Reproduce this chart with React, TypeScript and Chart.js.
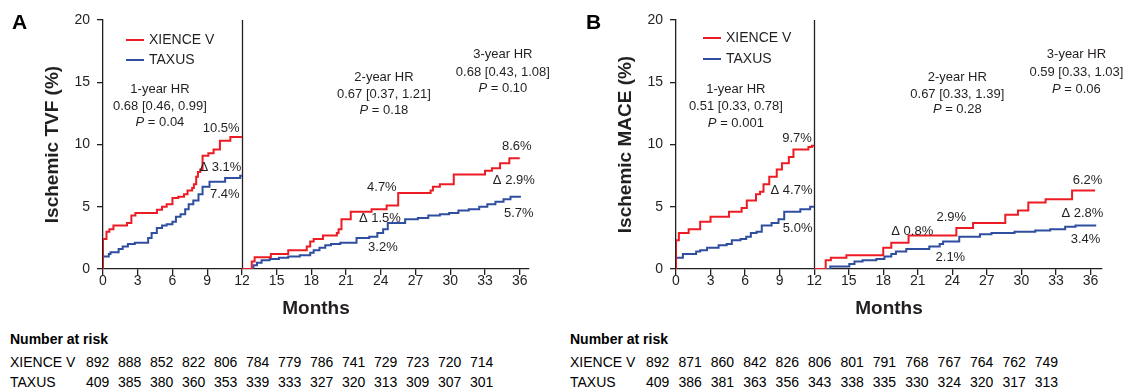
import React, { useEffect, useRef } from "react";
import { Chart, registerables } from "chart.js";

Chart.register(...registerables);

// ---------------- DATA ----------------
const monthTicks = [0, 3, 6, 9, 12, 15, 18, 21, 24, 27, 30, 33, 36];
const percentTicks = [0, 5, 10, 15, 20];
const seriesNames = ["XIENCE V", "TAXUS"];

// Panel A – Ischemic TVF, cumulative % [month, value]
const tvfXienceYear1: [number, number][] = [
  [0, 0], [0, 2.4], [0.3, 3.0], [0.55, 3.2], [0.9, 3.5], [2.07, 3.7], [2.45, 4.3], [2.8, 4.5],
  [4.66, 4.75], [5.1, 5.0], [5.5, 5.2], [6.0, 5.7], [6.5, 5.8], [7.0, 6.0], [7.3, 6.3], [7.7, 6.5],
  [7.85, 6.8], [8.05, 7.4], [8.2, 7.8], [8.4, 8.0], [8.6, 9.1], [9.1, 9.3], [9.55, 9.6], [10.1, 10.3],
  [11.0, 10.6], [12, 10.6],
];
const tvfTaxusYear1: [number, number][] = [
  [0, 0], [0, 1.0], [0.5, 1.2], [0.65, 1.35], [1.35, 1.6], [1.7, 1.8], [2.15, 2.0], [2.75, 2.1],
  [3.9, 2.5], [4.2, 2.9], [4.65, 3.3], [5.1, 3.5], [5.5, 3.6], [6.0, 3.8], [6.3, 4.2], [6.7, 4.4],
  [7.1, 4.8], [7.4, 5.2], [7.8, 5.5], [8.25, 6.0], [8.6, 6.6], [9.2, 7.0], [10.55, 7.3], [11.85, 7.5],
  [12, 7.5],
];
const tvfXienceLandmark: [number, number][] = [
  [12, 0], [12.85, 0.6], [13.1, 0.95], [14.5, 1.2], [16.0, 1.5], [17.6, 1.8], [17.9, 2.2], [18.2, 2.4],
  [19.0, 2.7], [20.2, 2.9], [20.35, 3.2], [20.6, 4.0], [21.4, 4.6], [23.2, 4.8], [24.5, 5.1], [25.5, 6.1],
  [28.3, 6.3], [28.5, 6.6], [29.1, 6.8], [30.3, 7.6], [33.0, 7.9], [33.6, 8.1], [34.3, 8.5], [35.1, 8.9],
  [36, 8.9],
];
const tvfTaxusLandmark: [number, number][] = [
  [12, 0], [13.0, 0.3], [13.3, 0.5], [13.7, 0.7], [14.4, 0.8], [15.2, 0.9], [16.0, 1.0], [17.0, 1.1],
  [17.9, 1.3], [18.2, 1.5], [18.7, 1.7], [19.2, 1.9], [19.7, 2.0], [20.5, 2.1], [21.9, 2.5], [23.0, 2.6],
  [23.7, 2.9], [24.2, 3.2], [24.6, 3.7], [26.1, 4.0], [27.2, 4.1], [28.1, 4.3], [29.1, 4.4], [29.9, 4.5],
  [30.7, 4.7], [31.6, 4.8], [32.5, 5.0], [33.2, 5.2], [33.9, 5.4], [34.6, 5.6], [35.2, 5.8], [36.1, 5.8],
];

// Panel B – Ischemic MACE, cumulative % [month, value]
const maceXienceYear1: [number, number][] = [
  [0, 0], [0, 2.3], [0.25, 2.9], [1.1, 3.2], [2.1, 3.8], [3.0, 4.2], [4.6, 4.6], [5.7, 4.9],
  [6.15, 5.5], [6.95, 6.0], [7.3, 6.2], [7.6, 6.8], [8.1, 7.4], [8.75, 8.0], [9.2, 8.5], [9.8, 9.0],
  [10.2, 9.6], [11.5, 9.8], [11.8, 9.9], [12, 9.9],
];
const maceTaxusYear1: [number, number][] = [
  [0, 0], [0, 0.9], [0.6, 1.2], [1.75, 1.4], [2.1, 1.5], [2.7, 1.7], [3.7, 1.9], [4.4, 2.0],
  [4.85, 2.3], [5.6, 2.4], [6.1, 2.6], [6.5, 2.9], [7.0, 3.0], [7.45, 3.5], [8.3, 3.7], [8.9, 4.0],
  [9.4, 4.6], [10.8, 4.8], [11.65, 5.0], [12, 5.0],
];
const maceXienceLandmark: [number, number][] = [
  [12, 0], [13.0, 0.7], [13.45, 0.9], [14.8, 1.1], [18.0, 1.7], [18.7, 2.1], [20.2, 2.7], [24.35, 3.3],
  [25.8, 3.7], [28.6, 4.35], [29.7, 4.7], [30.6, 5.35], [32.1, 5.6], [34.4, 6.3], [36.4, 6.3],
];
const maceTaxusLandmark: [number, number][] = [
  [12, 0], [13.4, 0.2], [15.05, 0.4], [15.5, 0.6], [16.2, 0.7], [17.4, 0.8], [18.1, 1.0], [18.7, 1.2],
  [19.1, 1.4], [20.0, 1.6], [22.0, 1.8], [22.9, 2.0], [23.2, 2.2], [24.6, 2.6], [26.4, 2.8], [27.4, 2.9],
  [29.4, 3.0], [31.2, 3.1], [32.5, 3.2], [33.8, 3.4], [34.7, 3.5], [36.5, 3.5],
];

// Number at risk
const tvfRiskXience = [892, 888, 852, 822, 806, 784, 779, 786, 741, 729, 723, 720, 714];
const tvfRiskTaxus = [409, 385, 380, 360, 353, 339, 333, 327, 320, 313, 309, 307, 301];
const maceRiskXience = [892, 871, 860, 842, 826, 806, 801, 791, 768, 767, 764, 762, 749];
const maceRiskTaxus = [409, 386, 381, 363, 356, 343, 338, 335, 330, 324, 320, 317, 313];

// Annotation texts
const tvfTexts = ["1-year HR", "0.68 [0.46, 0.99]", "P = 0.04", "10.5%", "Δ 3.1%", "7.4%",
  "2-year HR", "0.67 [0.37, 1.21]", "P = 0.18", "4.7%", "Δ 1.5%", "3.2%",
  "3-year HR", "0.68 [0.43, 1.08]", "P = 0.10", "8.6%", "Δ 2.9%", "5.7%"];
const maceTexts = ["1-year HR", "0.51 [0.33, 0.78]", "P = 0.001", "9.7%", "Δ 4.7%", "5.0%",
  "2-year HR", "0.67 [0.33, 1.39]", "P = 0.28", "2.9%", "Δ 0.8%", "2.1%",
  "3-year HR", "0.59 [0.33, 1.03]", "P = 0.06", "6.2%", "Δ 2.8%", "3.4%"];

// ---------------- STYLE / LAYOUT ----------------
const FONT = "'Liberation Sans', Arial, Helvetica, sans-serif";
const RED = "#ed1c24";
const BLUE = "#2f4ea0";
const AXIS = "#231f20";
const TEXT = "#231f20";
const CANVAS_H = 320;

// anchor positions (data coords) for each text, same order as text arrays
const tvfAnchors: [number, number, string][] = [
  [4.92, 14.46, "center"], [4.92, 13.09, "center"], [4.92, 11.8, "center"],
  [11.8, 11.33, "right"], [11.95, 8.19, "right"], [11.8, 6.02, "right"],
  [24.27, 15.42, "center"], [24.27, 14.06, "center"], [24.27, 12.77, "center"],
  [24.09, 6.59, "center"], [23.92, 4.1, "center"], [24.18, 1.77, "center"],
  [34.54, 17.27, "center"], [34.54, 15.82, "center"], [34.54, 14.54, "center"],
  [35.75, 9.88, "center"], [35.49, 7.15, "center"], [35.92, 4.5, "center"],
];
const maceAnchors: [number, number, string][] = [
  [5.2, 14.46, "center"], [5.2, 13.09, "center"], [5.2, 11.73, "center"],
  [11.8, 10.52, "right"], [11.85, 6.35, "right"], [11.85, 3.29, "right"],
  [24.43, 15.42, "center"], [24.43, 14.06, "center"], [24.43, 12.85, "center"],
  [23.91, 4.18, "center"], [20.52, 3.05, "center"], [23.83, 0.96, "center"],
  [34.78, 17.27, "center"], [34.78, 15.82, "center"], [34.78, 14.46, "center"],
  [35.74, 7.15, "center"], [35.3, 4.5, "center"], [35.57, 2.41, "center"],
];

function drawLabel(ctx: CanvasRenderingContext2D, text: string, px: number, py: number, align: string) {
  const normal = `13px ${FONT}`;
  const italic = `italic 13px ${FONT}`;
  ctx.textBaseline = "middle";
  ctx.fillStyle = TEXT;
  if (text.startsWith("P = ")) {
    const rest = text.slice(1);
    ctx.font = italic;
    const wP = ctx.measureText("P").width;
    ctx.font = normal;
    const wR = ctx.measureText(rest).width;
    const total = wP + wR;
    const start = align === "center" ? px - total / 2 : align === "right" ? px - total : px;
    ctx.textAlign = "left";
    ctx.font = italic;
    ctx.fillText("P", start, py);
    ctx.font = normal;
    ctx.fillText(rest, start + wP, py);
  } else {
    ctx.font = normal;
    ctx.textAlign = align as CanvasTextAlign;
    ctx.fillText(text, px, py);
  }
}

const overlayPlugin = {
  id: "kmOverlay",
  beforeDatasetsDraw(chart: any, _args: any, opts: any) {
    const { ctx, chartArea, scales } = chart;
    const x = scales.x;
    const vx = Math.round(x.getPixelForValue(opts.landmark)) + 0.5;
    ctx.save();
    ctx.strokeStyle = AXIS;
    ctx.lineWidth = 1.3;
    ctx.beginPath();
    ctx.moveTo(vx, chartArea.top);
    ctx.lineTo(vx, chartArea.bottom);
    ctx.stroke();
    ctx.restore();
  },
  afterDraw(chart: any, _args: any, opts: any) {
    const { ctx, scales } = chart;
    const x = scales.x;
    const y = scales.y;
    ctx.save();
    // panel letter
    ctx.font = `bold 21px ${FONT}`;
    ctx.fillStyle = "#000";
    ctx.textAlign = "left";
    ctx.textBaseline = "alphabetic";
    ctx.fillText(opts.letter, opts.letterX, 29);
    // legend
    opts.legendNames.forEach((name: string, i: number) => {
      const ly = opts.legendY[i];
      ctx.strokeStyle = opts.colors[i];
      ctx.lineWidth = 2;
      ctx.beginPath();
      ctx.moveTo(opts.legendX, ly);
      ctx.lineTo(opts.legendX + 18, ly);
      ctx.stroke();
      ctx.font = `14px ${FONT}`;
      ctx.fillStyle = TEXT;
      ctx.textAlign = "left";
      ctx.textBaseline = "middle";
      ctx.fillText(name, opts.legendX + 23, ly);
    });
    // annotations
    opts.texts.forEach((t: string, i: number) => {
      const [ax, ay, align] = opts.anchors[i];
      drawLabel(ctx, t, x.getPixelForValue(ax), y.getPixelForValue(ay), align);
    });
    ctx.restore();
  },
};

type PanelProps = {
  left: number;
  width: number;
  yWidth: number;
  padRight: number;
  xMax: number;
  yTitle: string;
  yTitlePad: number;
  letter: string;
  letterX: number;
  legendX: number;
  legendY: number[];
  texts: string[];
  anchors: [number, number, string][];
  series: [number, number][][];
};

function KMPanel(p: PanelProps) {
  const ref = useRef<HTMLCanvasElement>(null);
  useEffect(() => {
    if (!ref.current) return;
    const colors = [RED, BLUE, RED, BLUE];
    const chart = new Chart(ref.current, {
      type: "line",
      data: {
        datasets: p.series.map((s, i) => ({
          data: s.map(([m, v]) => ({ x: m, y: v })),
          borderColor: colors[i],
          backgroundColor: colors[i],
          borderWidth: 2,
          pointRadius: 0,
          stepped: "before" as const,
          fill: false,
          tension: 0,
        })),
      },
      options: {
        responsive: false,
        animation: false,
        devicePixelRatio: 1,
        layout: { padding: { top: 20, right: p.padRight, left: 0, bottom: 0 } },
        plugins: {
          legend: { display: false },
          tooltip: { enabled: false },
          kmOverlay: {
            landmark: 12,
            letter: p.letter,
            letterX: p.letterX,
            legendX: p.legendX,
            legendY: p.legendY,
            legendNames: seriesNames,
            colors: [RED, BLUE],
            texts: p.texts,
            anchors: p.anchors,
          },
        } as any,
        scales: {
          x: {
            type: "linear",
            min: 0,
            max: p.xMax,
            afterBuildTicks: (s: any) => {
              s.ticks = monthTicks.map((v) => ({ value: v }));
            },
            afterFit: (s: any) => {
              s.height = CANVAS_H - 269;
            },
            border: { display: true, color: AXIS, width: 1.3 },
            grid: { display: true, drawOnChartArea: false, drawTicks: true, tickLength: 6, color: AXIS, lineWidth: 1.3 },
            ticks: { padding: -2, color: TEXT, font: { size: 14, family: FONT }, maxRotation: 0, autoSkip: false },
            title: {
              display: true,
              text: "Months",
              color: TEXT,
              font: { size: 19, weight: "bold", family: FONT },
              padding: { top: 0, bottom: 0 },
            },
          },
          y: {
            type: "linear",
            min: 0,
            max: 20,
            afterBuildTicks: (s: any) => {
              s.ticks = percentTicks.map((v) => ({ value: v }));
            },
            afterFit: (s: any) => {
              s.width = p.yWidth;
            },
            border: { display: true, color: AXIS, width: 1.3 },
            grid: { display: true, drawOnChartArea: false, drawTicks: true, tickLength: 6, color: AXIS, lineWidth: 1.3 },
            ticks: { padding: 7, color: TEXT, font: { size: 14, family: FONT } },
            title: {
              display: true,
              text: p.yTitle,
              color: TEXT,
              font: { size: 19, weight: "bold", family: FONT },
              padding: { top: p.yTitlePad, bottom: 0 },
            },
          },
        },
      },
      plugins: [overlayPlugin],
    } as any);
    return () => chart.destroy();
  }, []);
  return (
    <canvas
      ref={ref}
      width={p.width}
      height={CANVAS_H}
      style={{ position: "absolute", left: p.left, top: 0, width: p.width, height: CANVAS_H }}
    />
  );
}

function RiskTable(props: { left: number; start: number; step: number; rows: number[][] }) {
  const base: React.CSSProperties = {
    position: "absolute",
    fontFamily: FONT,
    fontSize: 14,
    lineHeight: "16px",
    color: "#000",
    whiteSpace: "nowrap",
  };
  const rowY = [354, 374];
  return (
    <>
      <div style={{ ...base, left: props.left + 10, top: 331, fontWeight: "bold" }}>Number at risk</div>
      {props.rows.map((row, r) => (
        <React.Fragment key={r}>
          <div style={{ ...base, left: props.left + 10, top: rowY[r] }}>{seriesNames[r]}</div>
          {row.map((v, i) => (
            <div key={i} style={{ ...base, left: props.left + props.start + i * props.step, top: rowY[r] }}>
              {v}
            </div>
          ))}
        </React.Fragment>
      ))}
    </>
  );
}

export default function App() {
  return (
    <div style={{ position: "fixed", left: 0, top: 0, width: 1128, height: 391, background: "#fff", overflow: "hidden" }}>
      <KMPanel
        left={0}
        width={560}
        yWidth={103}
        padRight={31}
        xMax={36.8}
        yTitle="Ischemic TVF (%)"
        yTitlePad={41}
        letter="A"
        letterX={12}
        legendX={126}
        legendY={[40, 60]}
        texts={tvfTexts}
        anchors={tvfAnchors}
        series={[tvfXienceYear1, tvfTaxusYear1, tvfXienceLandmark, tvfTaxusLandmark]}
      />
      <KMPanel
        left={564}
        width={564}
        yWidth={112}
        padRight={26}
        xMax={37}
        yTitle="Ischemic MACE (%)"
        yTitlePad={50}
        letter="B"
        letterX={22}
        legendX={139}
        legendY={[38, 59]}
        texts={maceTexts}
        anchors={maceAnchors}
        series={[maceXienceYear1, maceTaxusYear1, maceXienceLandmark, maceTaxusLandmark]}
      />
      <RiskTable left={0} start={86} step={32.0} rows={[tvfRiskXience, tvfRiskTaxus]} />
      <RiskTable left={560} start={86} step={32.4} rows={[maceRiskXience, maceRiskTaxus]} />
    </div>
  );
}
